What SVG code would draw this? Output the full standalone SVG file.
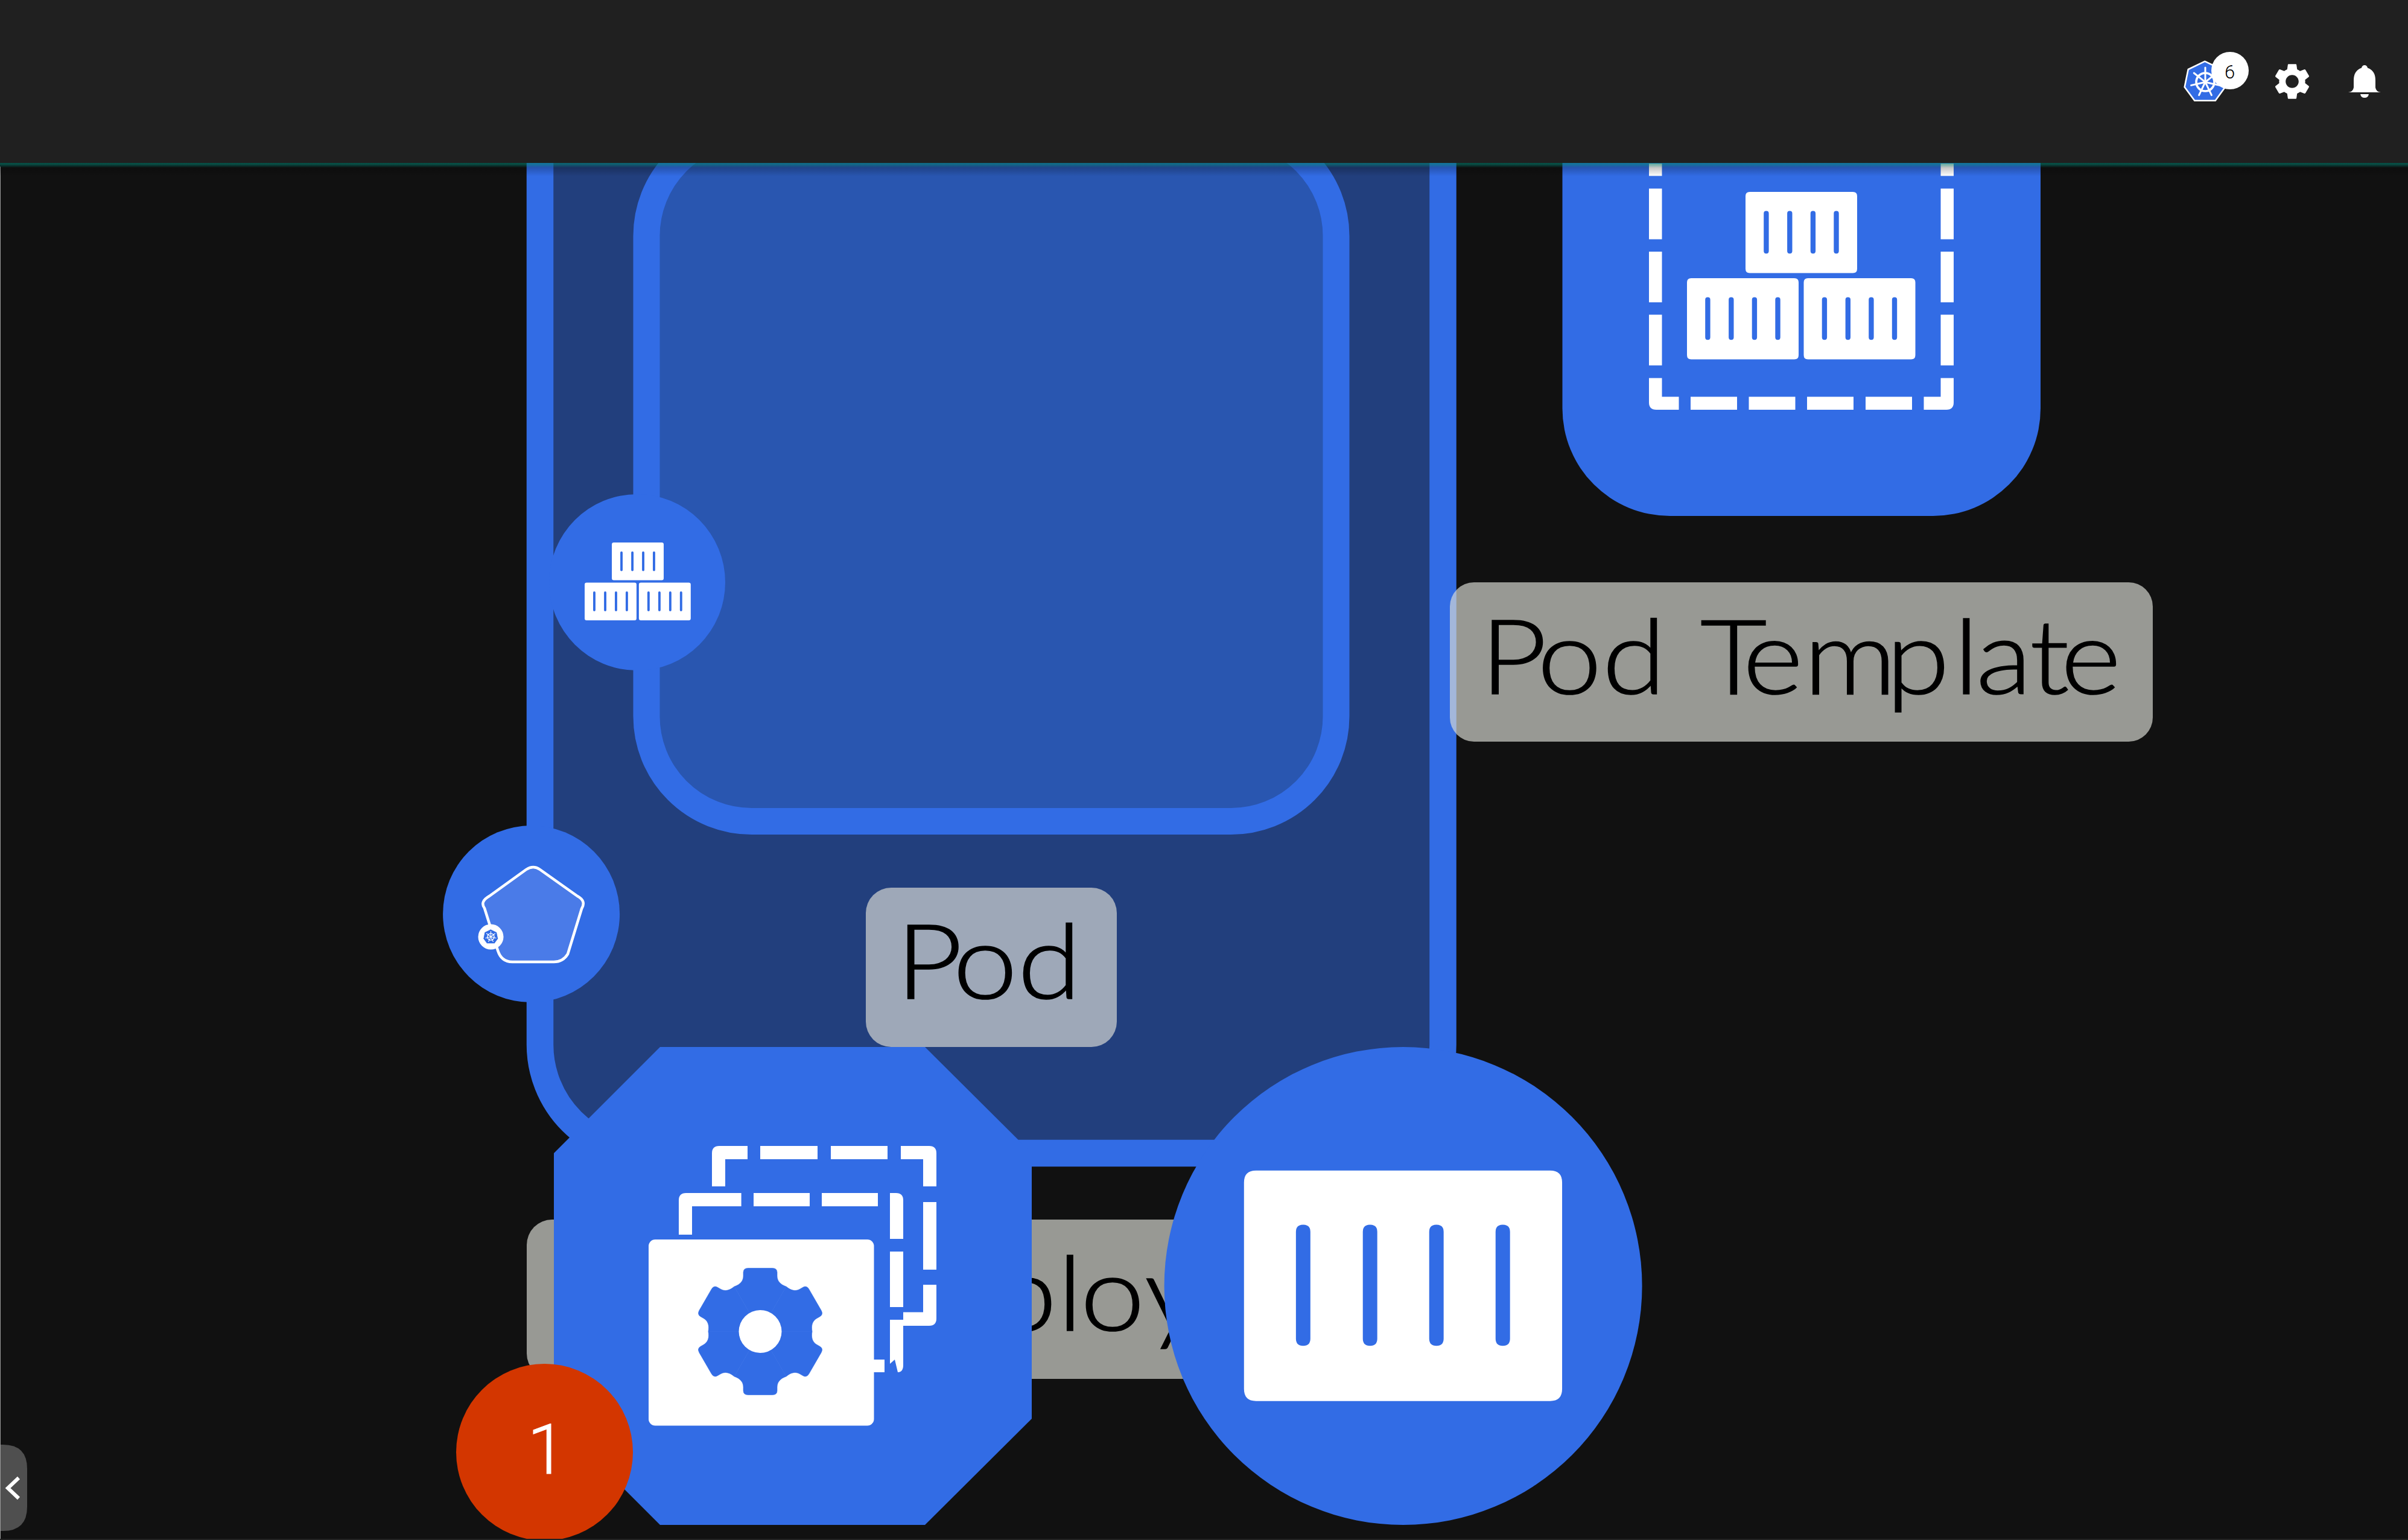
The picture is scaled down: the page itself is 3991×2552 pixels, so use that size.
<svg xmlns="http://www.w3.org/2000/svg" xmlns:xlink="http://www.w3.org/1999/xlink" width="3991" height="2552" viewBox="0 0 3991 2552">
<style>
.blue{fill:#326ce5}
.white{fill:#fff}
.label{fill:#dbdcd5;fill-opacity:.67}
.lt{font-family:"Lato","Liberation Sans",sans-serif;font-weight:300;font-size:171px;fill:#000;stroke:#000;stroke-width:1.6px}
.num{font-family:"Roboto","Liberation Sans",sans-serif;font-weight:300}
</style>
<defs>
<linearGradient id="shadow" x1="0" y1="0" x2="0" y2="1"><stop offset="0" stop-color="#000" stop-opacity=".35"/><stop offset="1" stop-color="#000" stop-opacity="0"/></linearGradient>
<linearGradient id="teal" x1="0" y1="0" x2="0" y2="1"><stop offset="0" stop-color="#00b09a" stop-opacity=".42"/><stop offset=".3" stop-color="#00b09a" stop-opacity=".38"/><stop offset="1" stop-color="#00b09a" stop-opacity="0"/></linearGradient>
<g id="crate">
<path class="white" fill-rule="evenodd" d="M7 0H178Q185 0 185 7V127.5Q185 134.5 178 134.5H7Q0 134.5 0 127.5V7Q0 0 7 0ZM34.4 31.6Q30.2 31.6 30.2 35.8V98.1Q30.2 102.3 34.4 102.3Q38.6 102.3 38.6 98.1V35.8Q38.6 31.6 34.4 31.6ZM73.3 31.6Q69.1 31.6 69.1 35.8V98.1Q69.1 102.3 73.3 102.3Q77.5 102.3 77.5 98.1V35.8Q77.5 31.6 73.3 31.6ZM111.9 31.6Q107.7 31.6 107.7 35.8V98.1Q107.7 102.3 111.9 102.3Q116.1 102.3 116.1 98.1V35.8Q116.1 31.6 111.9 31.6ZM150.5 31.6Q146.3 31.6 146.3 35.8V98.1Q146.3 102.3 150.5 102.3Q154.7 102.3 154.7 98.1V35.8Q154.7 31.6 150.5 31.6Z"/>
</g>
<g id="crates">
<use xlink:href="#crate" href="#crate" x="97" y="0"/>
<use xlink:href="#crate" href="#crate" x="0" y="143"/>
<use xlink:href="#crate" href="#crate" x="193.5" y="143"/>
</g>
<g id="spoke"><path d="M0-3V-24" stroke="#fff" stroke-width="3" stroke-linecap="round" fill="none"/></g>
<g id="k8s">
<path class="blue" stroke="#fff" stroke-width="2.6" stroke-linejoin="round" d="M-.7-34.3L27-21 33 8.3 16.7 30.7H-17.7L-34.3 8.3-28.3-21Z"/>
<circle r="15" fill="none" stroke="#fff" stroke-width="3.6"/>
<circle r="3" fill="#fff"/>
<use xlink:href="#spoke" href="#spoke"/>
<use xlink:href="#spoke" href="#spoke" transform="rotate(51.4)"/>
<use xlink:href="#spoke" href="#spoke" transform="rotate(102.9)"/>
<use xlink:href="#spoke" href="#spoke" transform="rotate(154.3)"/>
<use xlink:href="#spoke" href="#spoke" transform="rotate(205.7)"/>
<use xlink:href="#spoke" href="#spoke" transform="rotate(257.1)"/>
<use xlink:href="#spoke" href="#spoke" transform="rotate(308.6)"/>
</g>
<path id="cog" class="blue" stroke="#326ce5" stroke-width=".6" d="M0 0L-43-74.5C-33-78-28-84-28-92V-98Q-28-105-20-105H20Q28-105 28-98V-92C28-84 33-78 43-74.5Z"/>
</defs>

<rect id="background" width="3991" height="2552" fill="#111111"/>

<g id="pod-template">
<rect class="blue" x="2589.5" y="60" width="792.5" height="795" rx="178" ry="178"/>
<g class="white">
<rect x="2733" y="271" width="21.5" height="20.5"/><rect x="3216.5" y="271" width="21.5" height="20.5"/>
<rect x="2733" y="312.5" width="21.5" height="84"/><rect x="3216.5" y="312.5" width="21.5" height="84"/>
<rect x="2733" y="417" width="21.5" height="84"/><rect x="3216.5" y="417" width="21.5" height="84"/>
<rect x="2733" y="521.5" width="21.5" height="84"/><rect x="3216.5" y="521.5" width="21.5" height="84"/>
<path d="M2733 626.5H2754.5V657.5H2782.5V679H2745Q2733 679 2733 667Z"/>
<rect x="2802" y="657.5" width="77" height="21.5"/><rect x="2898.5" y="657.5" width="77" height="21.5"/><rect x="2995" y="657.5" width="77" height="21.5"/><rect x="3092" y="657.5" width="77" height="21.5"/>
<path d="M3216.5 626.5H3238V667Q3238 679 3226 679H3188.5V657.5H3216.5Z"/>
</g>
<use xlink:href="#crates" href="#crates" transform="translate(2796 318)"/>
</g>

<g id="pod">
<rect x="895" y="40" width="1496.5" height="1871" rx="180" fill="#223f7d" stroke="#326ce5" stroke-width="44.5"/>
</g>

<g id="container-box">
<rect x="1071.5" y="217" width="1143" height="1144" rx="174" fill="#2956b0" stroke="#326ce5" stroke-width="44"/>
</g>

<g id="container-icon">
<circle class="blue" cx="1056" cy="965" r="146"/>
<use xlink:href="#crates" href="#crates" transform="translate(969 899) scale(.4645)"/>
</g>

<g id="pod-icon">
<circle class="blue" cx="880.6" cy="1514.6" r="146.5"/>
<path fill="#4a7be8" stroke="#fff" stroke-width="4.5" stroke-linejoin="round" d="M872 1441Q884 1433 895 1441L957 1485Q972 1493 964 1506L941 1581Q933 1594 918 1594H849Q831 1594 825 1575L803 1505Q795 1494 811 1485Z"/>
<circle class="white" cx="813.5" cy="1552.5" r="21"/>
<use xlink:href="#k8s" href="#k8s" transform="translate(813.5 1552.5) scale(.37)"/>
</g>

<g id="label-pod-template">
<rect class="label" x="2403" y="965" width="1165" height="264" rx="40"/>
<text class="lt" transform="scale(1.12 1)" y="1150" x="2190.400 2275 2370.900 2455.400 2515.800 2579 2668.900 2790.800 2890.800 2924.100 3003.500 3049.500">Pod Template</text>
</g>

<g id="label-pod">
<rect class="label" x="1435" y="1471" width="416" height="264" rx="42"/>
<text class="lt" transform="scale(1.12 1)" y="1655.5" x="1325.600 1410.200 1505.700">Pod</text>
</g>

<g id="label-deployment">
<rect class="label" x="873" y="2021" width="1300" height="264" rx="42"/>
<text class="lt" transform="scale(1.12 1)" y="2205.5" x="839.300 982.100 1469.600 1564.500 1598.600 1693.800 1785.700 1928.600 2017.900 2098.200">Deployment</text>
</g>

<g id="deployment-icon">
<path class="blue" d="M1094 1735H1533L1710 1911V2351L1533 2527H1094L918 2351V1911Z"/>
<g class="white">
<path d="M1180 1966V1911Q1180 1899 1192 1899H1239V1921H1202V1966Z"/>
<rect x="1260" y="1899" width="95" height="22"/><rect x="1377" y="1899" width="94" height="22"/>
<path d="M1493 1899H1540Q1552 1899 1552 1911V1966H1530V1921H1493Z"/>
<rect x="1530" y="1992" width="22" height="112"/>
<path d="M1530 2129H1552V2185Q1552 2197 1540 2197H1497V2174.5H1530Z"/>
<path d="M1125 2046V1989Q1125 1977 1137 1977H1228.6V1999H1147V2046Z"/>
<rect x="1249" y="1977" width="93" height="22"/><rect x="1362" y="1977" width="93" height="22"/>
<path d="M1475 1977H1485Q1497 1977 1497 1989V2053H1475Z"/>
<rect x="1475" y="2074" width="22" height="92"/>
<path d="M1475 2187H1497V2262Q1497 2274 1488 2274L1483 2253 1475 2260Z"/>
<rect x="1448" y="2253" width="18" height="21"/>
<rect x="1075" y="2054" width="373.5" height="308.5" rx="11"/>
</g>
<g transform="translate(1260 2206.5)">
<use xlink:href="#cog" href="#cog"/>
<use xlink:href="#cog" href="#cog" transform="rotate(60)"/>
<use xlink:href="#cog" href="#cog" transform="rotate(120)"/>
<use xlink:href="#cog" href="#cog" transform="rotate(180)"/>
<use xlink:href="#cog" href="#cog" transform="rotate(240)"/>
<use xlink:href="#cog" href="#cog" transform="rotate(300)"/>
<circle class="white" r="35.5"/>
</g>
</g>

<g id="replica-icon">
<circle class="blue" cx="2325.6" cy="2131" r="396"/>
<use xlink:href="#crate" href="#crate" transform="translate(2061.8 1939.7) scale(2.85 2.84)"/>
</g>

<g id="count-badge">
<circle cx="902.5" cy="2406.5" r="146.5" fill="#d33600"/>
<text class="num" x="906" y="2442" font-size="115" fill="#fff" stroke="#fff" stroke-width="1" text-anchor="middle">1</text>
</g>

<g id="sidebar-toggle">
<path d="M0 2394H5Q45 2394 45 2434V2497Q45 2537 5 2537H0Z" fill="#4f4f4f"/>
<path d="M31 2449L13 2466 31 2483" fill="none" stroke="#fff" stroke-width="6"/>
<rect x="0" y="276" width="1" height="2276" fill="#9a9a9a"/>
<rect x="0" y="2550" width="3991" height="2" fill="#222"/>
</g>

<g id="header">
<rect width="3991" height="270" fill="#202020"/>
<rect y="270" width="3991" height="22" fill="url(#shadow)"/>
<rect y="270" width="3991" height="8" fill="url(#teal)"/>
<use xlink:href="#k8s" href="#k8s" transform="translate(3655 136)"/>
<circle class="white" cx="3696" cy="117" r="31"/>
<text class="num" x="3695.5" y="130" font-size="31" fill="#000" text-anchor="middle">6</text>
<path class="white" fill-rule="evenodd" transform="translate(3763 99) scale(3)" d="M19.14 12.94c.04-.3.06-.61.06-.94 0-.32-.02-.64-.07-.94l2.03-1.58c.18-.14.23-.41.12-.61l-1.92-3.32c-.12-.22-.37-.29-.59-.22l-2.39.96c-.5-.38-1.03-.7-1.62-.94l-.36-2.54c-.04-.24-.24-.41-.48-.41h-3.84c-.24 0-.43.17-.47.41l-.36 2.54c-.59.24-1.13.57-1.62.94l-2.39-.96c-.22-.08-.47 0-.59.22L2.74 8.87c-.12.21-.08.47.12.61l2.03 1.58c-.05.3-.09.63-.09.94s.02.64.07.94l-2.03 1.58c-.18.14-.23.41-.12.61l1.92 3.32c.12.22.37.29.59.22l2.39-.96c.5.38 1.03.7 1.62.94l.36 2.54c.05.24.24.41.48.41h3.84c.24 0 .44-.17.47-.41l.36-2.54c.59-.24 1.13-.56 1.62-.94l2.39.96c.22.08.47 0 .59-.22l1.92-3.32c.12-.22.07-.47-.12-.61l-2.01-1.58zM12 15.6c-1.98 0-3.6-1.62-3.6-3.6s1.62-3.6 3.6-3.6 3.6 1.62 3.6 3.6-1.62 3.6-3.6 3.6z"/>
<path class="white" d="M3919 108Q3923 108 3924 112.500Q3937 117 3937 133V145Q3938 152 3946 153H3892Q3900 152 3901 145V133Q3901 117 3914 112.500Q3915 108 3919 108Z"/>
<path class="white" d="M3912 156H3926Q3925 162 3919 162Q3913 162 3912 156Z"/>
</g>
</svg>
